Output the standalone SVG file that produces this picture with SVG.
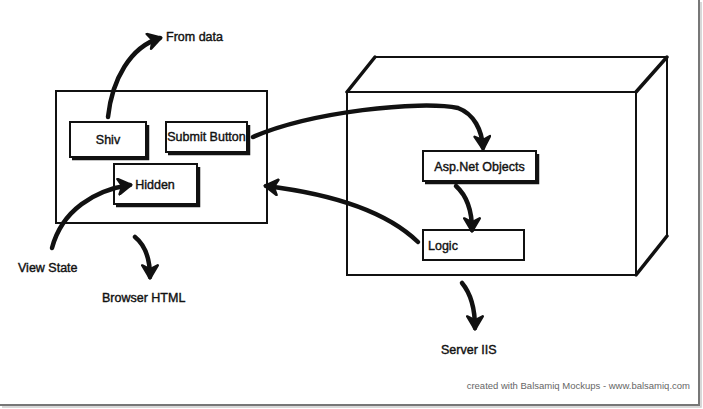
<svg xmlns="http://www.w3.org/2000/svg" width="703" height="409" viewBox="0 0 703 409">
<style>
.box{fill:#fff;stroke:#111;stroke-width:2}
.sh{fill:none;stroke:#111;stroke-width:2.5}
.t{font-family:"Liberation Sans",Arial,sans-serif;font-size:12.5px;fill:#111;stroke:#111;stroke-width:0.4}
.c{fill:none;stroke:#111;stroke-width:4.5;stroke-linecap:round}
.edge{fill:none;stroke:#111;stroke-width:2}
.thick{fill:none;stroke:#111;stroke-width:3.5;stroke-linecap:round}
</style>
<defs>
<marker id="ah" viewBox="0 0 14 14" markerWidth="18" markerHeight="18" markerUnits="userSpaceOnUse" refX="11" refY="7" orient="auto">
<path d="M2,1 L12,7 L2,13 L5,7 Z" fill="#111" stroke="#111" stroke-width="2" stroke-linejoin="round"/>
</marker>
</defs>
<rect width="703" height="409" fill="#fff"/>
<path d="M699,0 V405 H0" fill="none" stroke="#777" stroke-width="2"/>
<path d="M701,2 V407 H2" fill="none" stroke="#ccc" stroke-width="1.5"/>

<g id="browser">
<rect class="box" x="56" y="91" width="211" height="132"/>
</g>
<g id="shiv">
<path class="sh" d="M148,125 V159 H72"/>
<rect class="box" x="70" y="122" width="76" height="35"/>
<text class="t" x="108" y="144" text-anchor="middle">Shiv</text>
</g>
<g id="submit">
<path class="sh" d="M249,125 V154 H168"/>
<rect class="box" x="166" y="122" width="81" height="30"/>
<text class="t" x="206.5" y="141" text-anchor="middle">Submit Button</text>
</g>
<g id="hidden">
<path class="sh" d="M199,167 V206 H116"/>
<rect class="box" x="114" y="164" width="83" height="40"/>
<text class="t" x="155" y="189" text-anchor="middle">Hidden</text>
</g>
<g id="server">
<path class="edge" d="M375,57 H667 V236"/>
<path class="thick" d="M347,92 L375,57 M636,92 L667,57 M636,275 L667,236"/>
<rect class="box" x="347" y="92" width="289" height="183" fill="none"/>
</g>
<g id="asp">
<path class="sh" d="M538,154 V183 H425"/>
<rect class="box" x="423" y="151" width="113" height="30"/>
<text class="t" x="479.5" y="171" text-anchor="middle">Asp.Net Objects</text>
</g>
<g id="logic">
<rect class="box" x="423" y="230" width="101" height="30"/>
<text class="t" x="428" y="250">Logic</text>
</g>
<g id="labels">
<text class="t" x="166" y="41">From data</text>
<text class="t" x="18" y="272">View State</text>
<text class="t" x="102" y="302">Browser HTML</text>
<text class="t" x="441" y="354">Server IIS</text>
<text x="690" y="389" text-anchor="end" font-family="Liberation Sans,Arial,sans-serif" font-size="9.5px" fill="#666">created with Balsamiq Mockups - www.balsamiq.com</text>
</g>
<g id="connectors">
<path class="c" marker-end="url(#ah)" d="M108,117 C112,80 130,47 160,38"/>
<path class="c" marker-end="url(#ah)" d="M52,248 C62,210 95,190 130,185"/>
<path class="c" marker-end="url(#ah)" d="M135,237 C145,245 150,258 150,277"/>
<path class="c" marker-end="url(#ah)" d="M253,137 C310,112 420,100 458,108 C474,114 482,130 483,148"/>
<path class="c" marker-end="url(#ah)" d="M456,186 C466,195 472,210 472,230"/>
<path class="c" marker-end="url(#ah)" d="M418,242 C390,215 340,195 266,186"/>
<path class="c" marker-end="url(#ah)" d="M462,283 C472,295 475,310 475,328"/>
</g>
</svg>
